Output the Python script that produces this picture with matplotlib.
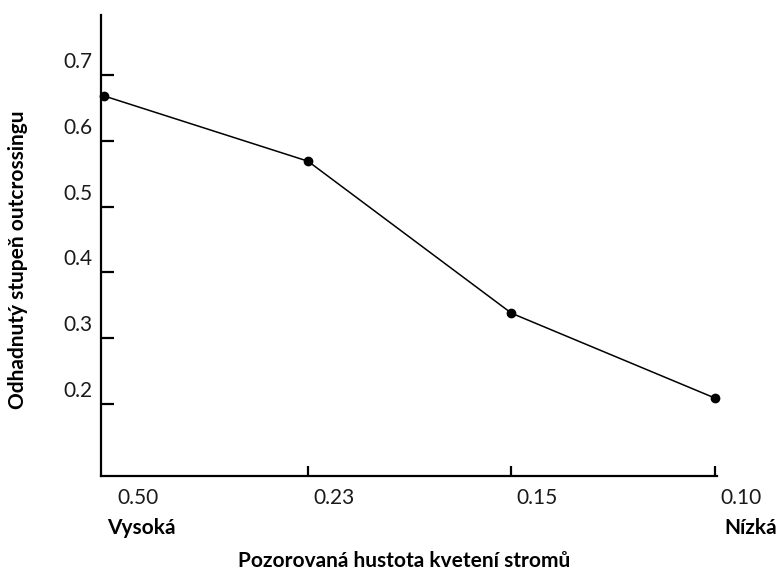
import matplotlib
matplotlib.use("Agg")
import matplotlib.pyplot as plt
from matplotlib.transforms import ScaledTranslation, blended_transform_factory

plt.rcParams['font.family'] = ['Lato', 'DejaVu Sans']

categories = ["0.50", "0.23", "0.15", "0.10"]
outcrossing = [0.668, 0.569, 0.338, 0.209]
y_ticks = [0.2, 0.3, 0.4, 0.5, 0.6, 0.7]
y_tick_labels = ["0.2", "0.3", "0.4", "0.5", "0.6", "0.7"]
x_label = "Pozorovaná hustota kvetení stromů"
y_label = "Odhadnutý stupeň outcrossingu"
left_note = "Vysoká"
right_note = "Nízká"

W, H = 779, 570
fig = plt.figure(figsize=(W / 100, H / 100), dpi=100)
ax = fig.add_axes([101 / W, 1 - 476 / H, (717 - 101) / W, (476 - 15) / H])

xs = list(range(len(categories)))
ax.plot(xs, outcrossing, color='black', lw=1.1, marker='o', ms=6,
        markerfacecolor='black', markeredgecolor='black', clip_on=False, zorder=3)

ax.set_xlim(-0.017, 3.01)
ax.set_ylim(0.0906, 0.7912)

for s in ['top', 'right']:
    ax.spines[s].set_visible(False)
for s in ['left', 'bottom']:
    ax.spines[s].set_linewidth(1.6)
    ax.spines[s].set_color('black')

ax.set_yticks(y_ticks)
ax.set_yticklabels([])
ax.set_xticks(xs)
ax.set_xticklabels([])
ax.tick_params(axis='y', direction='in', length=9, width=1.6, color='black')
ax.tick_params(axis='x', direction='in', length=7, width=1.6, color='black')
ax.xaxis.get_major_ticks()[0].tick1line.set_visible(False)

dpi = fig.dpi
ty = blended_transform_factory(ax.transAxes, ax.transData)
off_y = ScaledTranslation(-8 / dpi, 13 / dpi, fig.dpi_scale_trans)
for v, t in zip(y_ticks, y_tick_labels):
    ax.text(0, v, t, transform=ty + off_y, ha='right', va='center',
            fontsize=15, color='#1a1a1a')

tx = blended_transform_factory(ax.transData, ax.transAxes)
off_x = ScaledTranslation(5 / dpi, -12 / dpi, fig.dpi_scale_trans)
for i, t in enumerate(categories):
    xi = i if i > 0 else i + 0.04
    ax.text(xi, 0, t, transform=tx + off_x, ha='left', va='top',
            fontsize=15, color='#1a1a1a')

bold_size = 15
fig.text(107 / W, 1 - 528 / H, left_note, ha='left', va='center',
         fontsize=bold_size, fontweight='bold', color='black')
fig.text(777 / W, 1 - 528 / H, right_note, ha='right', va='center',
         fontsize=bold_size, fontweight='bold', color='black')
fig.text(404 / W, 1 - 561 / H, x_label, ha='center', va='center',
         fontsize=bold_size, fontweight='bold', color='black')
fig.text(18 / W, 1 - 260 / H, y_label, ha='center', va='center', rotation=90,
         fontsize=bold_size, fontweight='bold', color='black')

fig.savefig("out.png", dpi=100)
